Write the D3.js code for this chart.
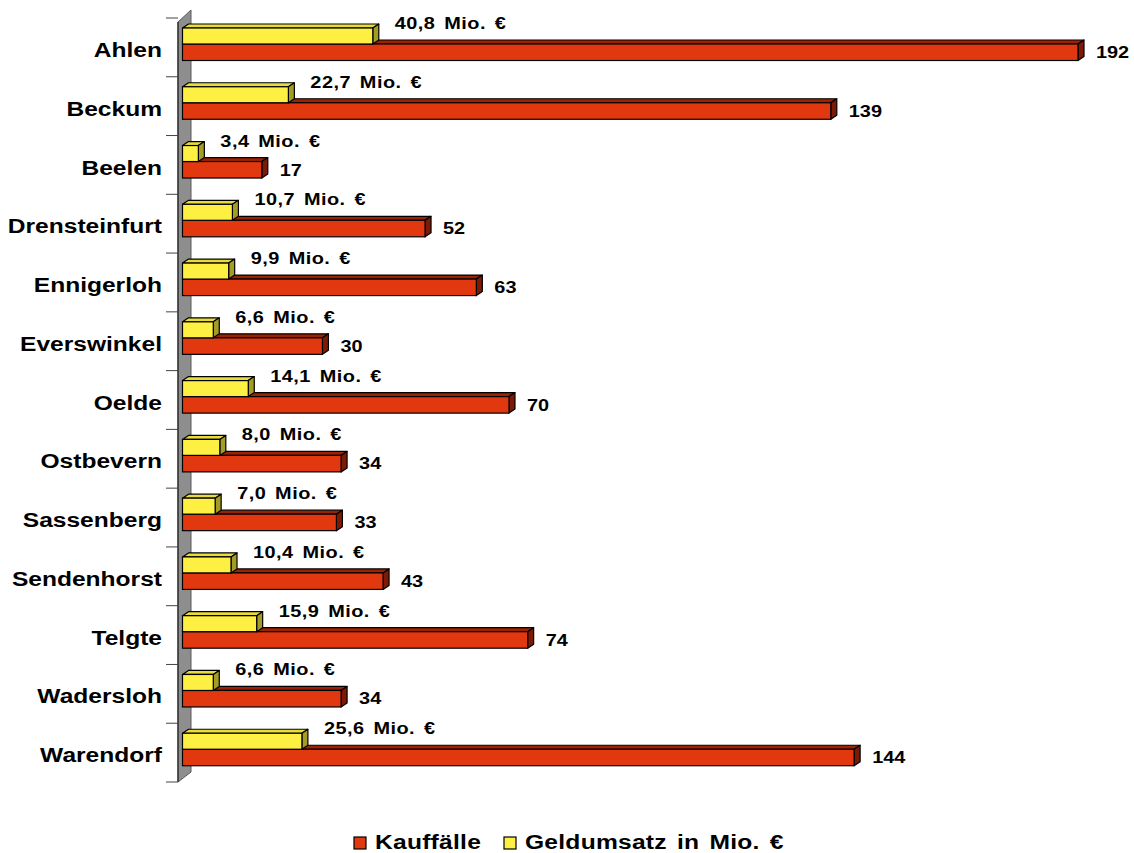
<!DOCTYPE html>
<html>
<head>
<meta charset="utf-8">
<script src="https://cdn.jsdelivr.net/npm/d3@7"></script>
<style>
  html, body { margin: 0; padding: 0; background: #ffffff; }
  svg { display: block; font-family: "Liberation Sans", Arial, sans-serif; font-weight: bold; }
</style>
</head>
<body>
<svg id="chart" width="1134" height="853"></svg>
<script>
// Kommunen im Kreis Warendorf
const categories = ["Ahlen", "Beckum", "Beelen", "Drensteinfurt", "Ennigerloh", "Everswinkel",
  "Oelde", "Ostbevern", "Sassenberg", "Sendenhorst", "Telgte", "Wadersloh", "Warendorf"];
// Anzahl der Kauffälle
const kauffaelle = [192, 139, 17, 52, 63, 30, 70, 34, 33, 43, 74, 34, 144];
// Geldumsatz in Mio. €
const geldumsatz = [40.8, 22.7, 3.4, 10.7, 9.9, 6.6, 14.1, 8.0, 7.0, 10.4, 15.9, 6.6, 25.6];
const seriesNames = ["Kauffälle", "Geldumsatz in Mio. €"];

const svg = d3.select("#chart");

const x0 = 182.5;
const x = d3.scaleLinear().domain([0, 192]).range([x0, 1078]);
const y = d3.scaleBand().domain(categories).range([18, 782]).paddingInner(0).paddingOuter(0);

const depthX = 6, depthY = -4;
const colors = {
  red:    { front: "#e2380f", top: "#9c2204", side: "#7c1a06" },
  yellow: { front: "#fdf043", top: "#e9dc3a", side: "#a49c24" }
};

// breite Schrift: horizontal gestreckter Text
function wideText(g, px, py, str, size, sx, anchor, wordSpacing, letterSpacing) {
  return g.append("text")
    .attr("transform", `translate(${px},${py}) scale(${sx},1)`)
    .attr("x", 0).attr("y", 0)
    .attr("text-anchor", anchor || "start")
    .attr("font-size", size)
    .attr("word-spacing", wordSpacing || 0)
    .attr("letter-spacing", letterSpacing || 0)
    .attr("fill", "#000")
    .text(str);
}

// Seitenwand
const wallX0 = 178, wallX1 = 191;
svg.append("path")
  .attr("d", `M${wallX0},${y.range()[0] + 4}L${wallX1},${y.range()[0] - 8}L${wallX1},${y.range()[1] - 10}L${wallX0},${y.range()[1]}Z`)
  .attr("fill", "#8e8e8e")
  .attr("stroke", "#5a5a5a")
  .attr("stroke-width", 1);
svg.append("line")
  .attr("x1", wallX0).attr("x2", wallX0)
  .attr("y1", y.range()[0] + 4).attr("y2", y.range()[1])
  .attr("stroke", "#222").attr("stroke-width", 1.2);

// Teilstriche der Kategorienachse
const tickYs = categories.map(c => y(c)).concat([y.range()[1]]);
svg.append("g").selectAll("line").data(tickYs).join("line")
  .attr("x1", 166).attr("x2", wallX0)
  .attr("y1", d => d).attr("y2", d => d)
  .attr("stroke", "#444").attr("stroke-width", 1);

// 3D-Balken
function bar3d(g, xEnd, top, h, c) {
  const xs = x0, xe = xEnd;
  g.append("path")
    .attr("d", `M${xs},${top}L${xs + depthX},${top + depthY}L${xe + depthX},${top + depthY}L${xe},${top}Z`)
    .attr("fill", c.top).attr("stroke", "#000").attr("stroke-width", 1.2).attr("stroke-linejoin", "round");
  g.append("path")
    .attr("d", `M${xe},${top}L${xe + depthX},${top + depthY}L${xe + depthX},${top + h + depthY}L${xe},${top + h}Z`)
    .attr("fill", c.side).attr("stroke", "#000").attr("stroke-width", 1.2).attr("stroke-linejoin", "round");
  g.append("rect")
    .attr("x", xs).attr("y", top).attr("width", xe - xs).attr("height", h)
    .attr("fill", c.front).attr("stroke", "#000").attr("stroke-width", 1.2);
}

const fmt = v => v.toFixed(1).replace(".", ",") + " Mio. €";

categories.forEach((cat, i) => {
  const b = y(cat);
  const g = svg.append("g");
  // Kauffälle (unten), dann Geldumsatz (oben, davor)
  bar3d(g, x(kauffaelle[i]), b + 26, 16.5, colors.red);
  bar3d(g, x(geldumsatz[i]), b + 10, 16, colors.yellow);

  wideText(g, x(kauffaelle[i]) + 18, b + 40, String(kauffaelle[i]), 17, 1.17);
  wideText(g, x(geldumsatz[i]) + 22, b + 11, fmt(geldumsatz[i]), 17, 1.17, "start", 2.5, 0.4);
  wideText(g, 162, b + 39, cat, 21, 1.17, "end");
});

// Legende
const legend = svg.append("g");
const legendItems = [
  { name: seriesNames[0], color: colors.red.front, sx: 354, tx: 375 },
  { name: seriesNames[1], color: colors.yellow.front, sx: 504, tx: 525 }
];
legendItems.forEach(d => {
  legend.append("rect")
    .attr("x", d.sx).attr("y", 837).attr("width", 12).attr("height", 12)
    .attr("fill", d.color).attr("stroke", "#000").attr("stroke-width", 1.2);
  wideText(legend, d.tx, 849, d.name, 20, 1.23, "start", 2.5, 0.2);
});
</script>
</body>
</html>
